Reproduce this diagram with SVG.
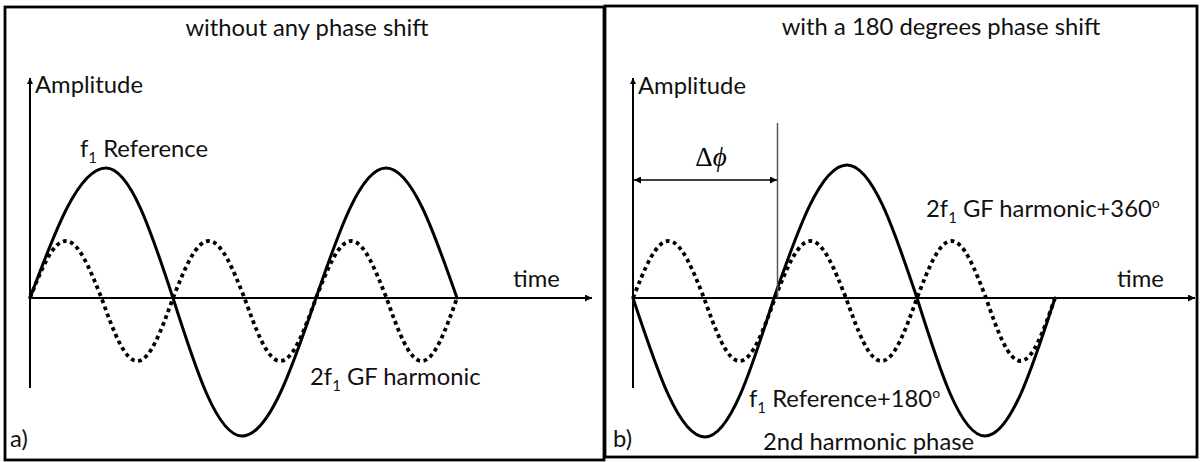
<svg xmlns="http://www.w3.org/2000/svg" width="1200" height="462" viewBox="0 0 1200 462">
  <defs>
    <marker id="ah" viewBox="0 0 10 10" refX="10" refY="5" markerWidth="9" markerHeight="7" orient="auto-start-reverse" markerUnits="userSpaceOnUse">
      <path d="M0,0 L10,5 L0,10 z" fill="#000"/>
    </marker>
    <marker id="ahs" viewBox="0 0 10 10" refX="10" refY="5" markerWidth="7" markerHeight="6" orient="auto-start-reverse" markerUnits="userSpaceOnUse">
      <path d="M0,0 L10,5 L0,10 z" fill="#000"/>
    </marker>
  </defs>
  <style>
    .frame { fill: #fff; stroke: #000; stroke-width: 2.8; }
    .axis { fill: none; stroke: #000; stroke-width: 2; }
    .solid { fill: none; stroke: #000; stroke-width: 3; stroke-linecap: round; stroke-linejoin: round; }
    .dot { fill: none; stroke: #000; stroke-width: 3.8; stroke-dasharray: 3.8 3.6; }
    .lbl { font-family: "Lato", "Liberation Sans", sans-serif; font-size: 23.8px; fill: #111; }
    .sub { font-size: 15px; }
    .sup { font-size: 14px; }
    .greek { font-family: "Liberation Serif", "DejaVu Serif", serif; font-size: 27px; fill: #000; }
  </style>
  <rect width="1200" height="462" fill="#fff"/>

  <g id="panel-a">
    <rect class="frame" x="5" y="7" width="599" height="453"/>
    <text class="lbl" x="307" y="36" text-anchor="middle">without any phase shift</text>
    <text class="lbl" x="35" y="93">Amplitude</text>
    <text class="lbl" x="513" y="287">time</text>
    <text class="lbl" x="80" y="157">f<tspan class="sub" dy="6">1</tspan><tspan dy="-6"> Reference</tspan></text>
    <text class="lbl" x="310" y="385">2f<tspan class="sub" dy="6">1</tspan><tspan dy="-6"> GF harmonic</tspan></text>
    <text class="lbl" x="10" y="447">a)</text>
    <path id="a-ref" class="solid" d="M30,298 C54.8,231.4 78.5,168 106,168 C130.2,168 151.2,231.4 173,298 C195.5,368.7 217,436 242,436 C268.8,436 291.9,368.7 316,298 C338.8,231.4 360.7,168 386,168 C411.7,168 433.8,231.4 457,298"/>
    <path id="a-harm" class="dot" d="M30,298 C41.66,268.8 52.81,241 65.75,241 C78.69,241 89.84,268.8 101.5,298 C113.16,330.3 124.31,361 137.25,361 C150.19,361 161.34,330.3 173,298 C184.66,268.8 195.81,241 208.75,241 C221.69,241 232.84,268.8 244.5,298 C256.16,330.3 267.31,361 280.25,361 C293.19,361 304.34,330.3 316,298 C327.5,268.8 338.49,241 351.25,241 C364.01,241 375,268.8 386.5,298 C398,330.3 408.99,361 421.75,361 C434.51,361 445.5,330.3 457,298"/>
  </g>

  <g id="panel-b">
    <rect class="frame" x="605" y="6" width="592" height="451"/>
    <text class="lbl" x="941" y="35" text-anchor="middle">with a 180 degrees phase shift</text>
    <text class="lbl" x="638" y="94">Amplitude</text>
    <text class="lbl" x="1117" y="287">time</text>
    <text class="greek" x="711" y="166" text-anchor="middle">Δ<tspan font-style="italic">ϕ</tspan></text>
    <text class="lbl" x="926" y="217">2f<tspan class="sub" dy="6">1</tspan><tspan dy="-6"> GF harmonic+360</tspan><tspan class="sup" dy="-9">o</tspan></text>
    <text class="lbl" x="749" y="407">f<tspan class="sub" dy="6">1</tspan><tspan dy="-6"> Reference+180</tspan><tspan class="sup" dy="-9">o</tspan></text>
    <text class="lbl" x="763" y="450">2nd harmonic phase</text>
    <text class="lbl" x="613" y="447">b)</text>
    <path id="b-ref" class="solid" d="M633,298 C656.5,369.2 678.9,437 705,437 C730,437 751.5,369.2 774,298 C797.8,229.9 820.6,165 847,165 C872.3,165 894.2,229.9 917,298 C939.2,368.7 960.4,436 985,436 C1010.3,436 1032.2,368.7 1055,298"/>
    <path id="b-harm" class="dot" d="M633,298 C644.58,268.8 655.65,241 668.5,241 C681.35,241 692.42,268.8 704,298 C715.58,330.3 726.65,361 739.5,361 C752.35,361 763.42,330.3 775,298 C786.58,268.8 797.65,241 810.5,241 C823.35,241 834.42,268.8 846,298 C857.58,330.3 868.65,361 881.5,361 C894.35,361 905.42,330.3 917,298 C928.25,268.8 939.01,241 951.5,241 C963.99,241 974.75,268.8 986,298 C997.25,330.3 1008.01,361 1020.5,361 C1032.99,361 1043.75,330.3 1055,298"/>
  </g>

  <g id="connectors">
    <line class="axis" x1="30" y1="388" x2="30" y2="78" marker-end="url(#ahs)"/>
    <line class="axis" x1="30" y1="298" x2="592" y2="298" marker-end="url(#ah)"/>
    <line class="axis" x1="633" y1="388" x2="633" y2="78" marker-end="url(#ahs)"/>
    <line class="axis" x1="633" y1="298" x2="1195" y2="298" marker-end="url(#ah)"/>
    <line x1="777.5" y1="123" x2="777.5" y2="298" stroke="#555" stroke-width="1.5"/>
    <line x1="634" y1="180" x2="777" y2="180" stroke="#000" stroke-width="1.5" marker-start="url(#ah)" marker-end="url(#ah)"/>
  </g>
</svg>
